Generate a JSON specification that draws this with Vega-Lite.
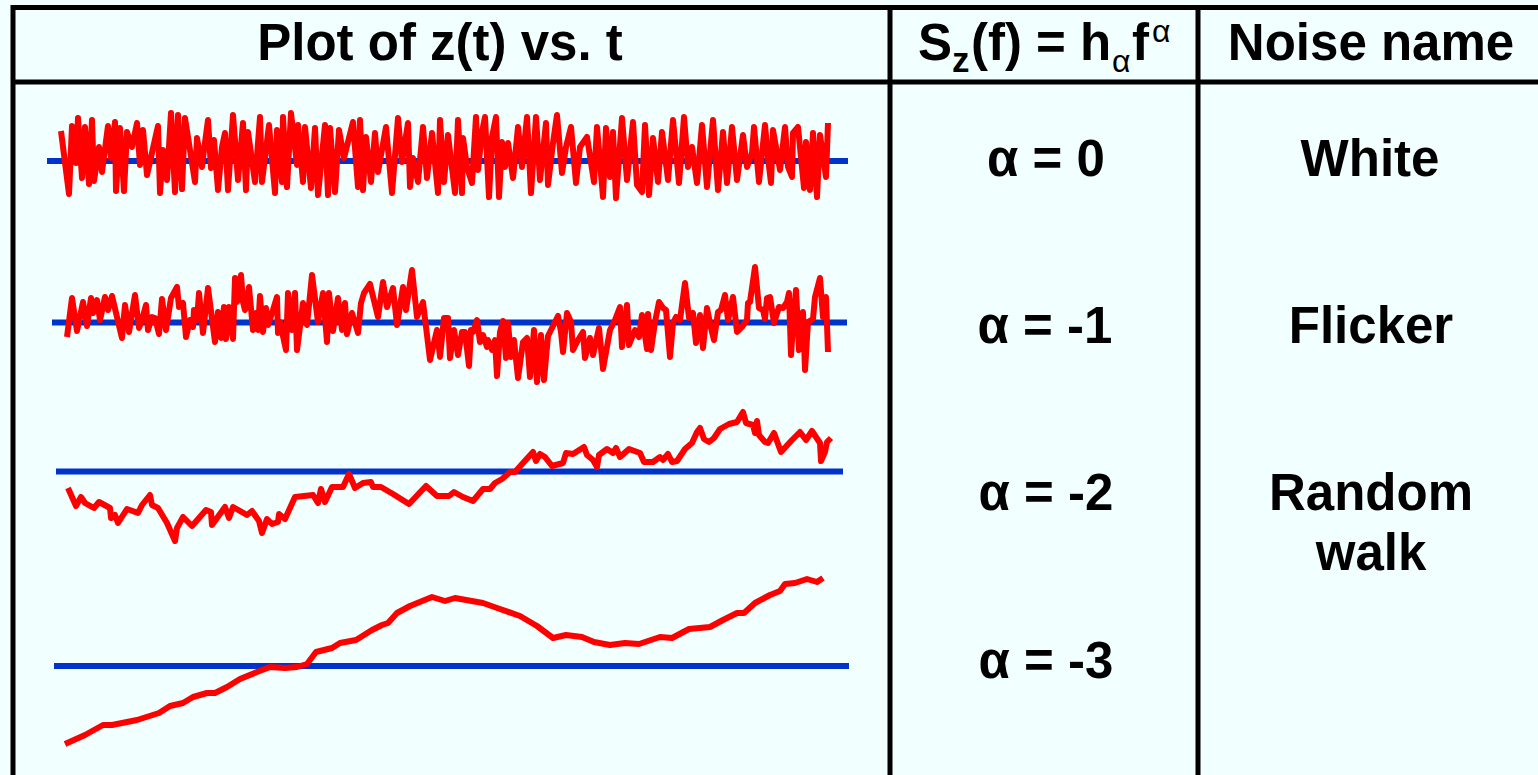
{
 "$schema": "https://vega.github.io/schema/vega-lite/v6.json",
 "width": 1538, "height": 775,
 "autosize": {"type": "none"},
 "padding": 0,
 "background": "#F2FFFF",
 "config": {"view": {"stroke": null}},
 "datasets": {
  "grid": [
   {"t": 11, "t2": 1538, "z": 7.5, "z2": 7.5},
   {"t": 11, "t2": 1538, "z": 82, "z2": 82},
   {"t": 13, "t2": 13, "z": 5, "z2": 775},
   {"t": 890, "t2": 890, "z": 5, "z2": 775},
   {"t": 1198, "t2": 1198, "z": 5, "z2": 775}
  ],
  "baselines": [
   {"series": "white", "t": 47, "t2": 848, "z": 161},
   {"series": "flicker", "t": 52, "t2": 847, "z": 322.5},
   {"series": "random walk", "t": 56, "t2": 843, "z": 471.5},
   {"series": "alpha -3", "t": 54, "t2": 849, "z": 666}
  ],
  "series": [
   {"series":"white","t":61,"z":131},{"series":"white","t":69,"z":194},{"series":"white","t":72,"z":126},{"series":"white","t":76,"z":163},{"series":"white","t":78,"z":118},{"series":"white","t":82,"z":178},{"series":"white","t":85,"z":127},{"series":"white","t":89,"z":184},{"series":"white","t":92,"z":120},{"series":"white","t":94,"z":181},{"series":"white","t":99,"z":147},{"series":"white","t":102,"z":172},{"series":"white","t":108,"z":126},{"series":"white","t":111,"z":158},{"series":"white","t":115,"z":122},{"series":"white","t":116,"z":191},{"series":"white","t":120,"z":128},{"series":"white","t":124,"z":191},{"series":"white","t":127,"z":132},{"series":"white","t":132,"z":147},{"series":"white","t":137,"z":123},{"series":"white","t":140,"z":165},{"series":"white","t":143,"z":130},{"series":"white","t":147,"z":175},{"series":"white","t":158,"z":126},{"series":"white","t":160,"z":193},{"series":"white","t":163,"z":150},{"series":"white","t":167,"z":180},{"series":"white","t":171,"z":113},{"series":"white","t":175,"z":192},{"series":"white","t":178,"z":115},{"series":"white","t":182,"z":189},{"series":"white","t":185,"z":118},{"series":"white","t":195,"z":182},{"series":"white","t":197,"z":138},{"series":"white","t":202,"z":167},{"series":"white","t":204,"z":150},{"series":"white","t":208,"z":120},{"series":"white","t":211,"z":168},{"series":"white","t":214,"z":140},{"series":"white","t":218,"z":190},{"series":"white","t":222,"z":147},{"series":"white","t":225,"z":133},{"series":"white","t":228,"z":190},{"series":"white","t":233,"z":115},{"series":"white","t":238,"z":180},{"series":"white","t":243,"z":123},{"series":"white","t":246,"z":190},{"series":"white","t":248,"z":132},{"series":"white","t":255,"z":182},{"series":"white","t":260,"z":117},{"series":"white","t":262,"z":182},{"series":"white","t":269,"z":125},{"series":"white","t":275,"z":193},{"series":"white","t":277,"z":130},{"series":"white","t":282,"z":182},{"series":"white","t":283,"z":117},{"series":"white","t":287,"z":187},{"series":"white","t":291,"z":113},{"series":"white","t":297,"z":165},{"series":"white","t":298,"z":125},{"series":"white","t":303,"z":182},{"series":"white","t":305,"z":127},{"series":"white","t":311,"z":188},{"series":"white","t":315,"z":128},{"series":"white","t":318,"z":195},{"series":"white","t":325,"z":125},{"series":"white","t":328,"z":195},{"series":"white","t":330,"z":128},{"series":"white","t":335,"z":192},{"series":"white","t":339,"z":130},{"series":"white","t":344,"z":158},{"series":"white","t":353,"z":122},{"series":"white","t":358,"z":187},{"series":"white","t":360,"z":120},{"series":"white","t":363,"z":190},{"series":"white","t":366,"z":137},{"series":"white","t":371,"z":182},{"series":"white","t":375,"z":133},{"series":"white","t":378,"z":172},{"series":"white","t":386,"z":127},{"series":"white","t":392,"z":193},{"series":"white","t":398,"z":118},{"series":"white","t":402,"z":162},{"series":"white","t":408,"z":123},{"series":"white","t":410,"z":187},{"series":"white","t":413,"z":158},{"series":"white","t":418,"z":182},{"series":"white","t":423,"z":127},{"series":"white","t":427,"z":178},{"series":"white","t":432,"z":133},{"series":"white","t":438,"z":193},{"series":"white","t":440,"z":120},{"series":"white","t":444,"z":182},{"series":"white","t":448,"z":135},{"series":"white","t":455,"z":193},{"series":"white","t":458,"z":120},{"series":"white","t":462,"z":193},{"series":"white","t":463,"z":138},{"series":"white","t":467,"z":167},{"series":"white","t":472,"z":183},{"series":"white","t":476,"z":117},{"series":"white","t":478,"z":170},{"series":"white","t":482,"z":132},{"series":"white","t":485,"z":117},{"series":"white","t":489,"z":197},{"series":"white","t":492,"z":137},{"series":"white","t":496,"z":117},{"series":"white","t":499,"z":197},{"series":"white","t":502,"z":142},{"series":"white","t":505,"z":167},{"series":"white","t":508,"z":143},{"series":"white","t":513,"z":178},{"series":"white","t":518,"z":127},{"series":"white","t":522,"z":167},{"series":"white","t":527,"z":117},{"series":"white","t":531,"z":193},{"series":"white","t":536,"z":117},{"series":"white","t":540,"z":180},{"series":"white","t":546,"z":123},{"series":"white","t":548,"z":185},{"series":"white","t":553,"z":143},{"series":"white","t":557,"z":115},{"series":"white","t":562,"z":173},{"series":"white","t":566,"z":147},{"series":"white","t":571,"z":127},{"series":"white","t":576,"z":183},{"series":"white","t":580,"z":147},{"series":"white","t":587,"z":137},{"series":"white","t":594,"z":182},{"series":"white","t":597,"z":127},{"series":"white","t":603,"z":197},{"series":"white","t":606,"z":128},{"series":"white","t":610,"z":177},{"series":"white","t":613,"z":132},{"series":"white","t":616,"z":198},{"series":"white","t":622,"z":118},{"series":"white","t":627,"z":180},{"series":"white","t":633,"z":122},{"series":"white","t":637,"z":185},{"series":"white","t":642,"z":192},{"series":"white","t":645,"z":125},{"series":"white","t":649,"z":195},{"series":"white","t":653,"z":138},{"series":"white","t":658,"z":182},{"series":"white","t":662,"z":132},{"series":"white","t":668,"z":180},{"series":"white","t":673,"z":120},{"series":"white","t":679,"z":183},{"series":"white","t":684,"z":117},{"series":"white","t":688,"z":167},{"series":"white","t":692,"z":147},{"series":"white","t":697,"z":183},{"series":"white","t":702,"z":125},{"series":"white","t":707,"z":187},{"series":"white","t":713,"z":120},{"series":"white","t":718,"z":190},{"series":"white","t":723,"z":132},{"series":"white","t":727,"z":183},{"series":"white","t":732,"z":127},{"series":"white","t":737,"z":180},{"series":"white","t":743,"z":135},{"series":"white","t":747,"z":167},{"series":"white","t":752,"z":153},{"series":"white","t":754,"z":127},{"series":"white","t":759,"z":182},{"series":"white","t":765,"z":125},{"series":"white","t":768,"z":158},{"series":"white","t":771,"z":183},{"series":"white","t":773,"z":130},{"series":"white","t":780,"z":170},{"series":"white","t":785,"z":127},{"series":"white","t":788,"z":167},{"series":"white","t":792,"z":177},{"series":"white","t":793,"z":133},{"series":"white","t":798,"z":127},{"series":"white","t":804,"z":188},{"series":"white","t":806,"z":142},{"series":"white","t":810,"z":190},{"series":"white","t":813,"z":133},{"series":"white","t":817,"z":197},{"series":"white","t":820,"z":135},{"series":"white","t":826,"z":177},{"series":"white","t":828,"z":123},
   {"series":"flicker","t":67,"z":337},{"series":"flicker","t":72,"z":298},{"series":"flicker","t":77,"z":331},{"series":"flicker","t":83,"z":302},{"series":"flicker","t":87,"z":326},{"series":"flicker","t":91,"z":298},{"series":"flicker","t":93,"z":313},{"series":"flicker","t":97,"z":300},{"series":"flicker","t":100,"z":320},{"series":"flicker","t":105,"z":297},{"series":"flicker","t":108,"z":310},{"series":"flicker","t":112,"z":296},{"series":"flicker","t":122,"z":338},{"series":"flicker","t":125,"z":305},{"series":"flicker","t":129,"z":332},{"series":"flicker","t":135,"z":295},{"series":"flicker","t":139,"z":328},{"series":"flicker","t":142,"z":320},{"series":"flicker","t":146,"z":305},{"series":"flicker","t":148,"z":330},{"series":"flicker","t":152,"z":317},{"series":"flicker","t":155,"z":318},{"series":"flicker","t":159,"z":334},{"series":"flicker","t":162,"z":299},{"series":"flicker","t":166,"z":330},{"series":"flicker","t":171,"z":298},{"series":"flicker","t":177,"z":287},{"series":"flicker","t":179,"z":307},{"series":"flicker","t":183,"z":303},{"series":"flicker","t":186,"z":337},{"series":"flicker","t":190,"z":320},{"series":"flicker","t":193,"z":327},{"series":"flicker","t":194,"z":310},{"series":"flicker","t":197,"z":320},{"series":"flicker","t":199,"z":293},{"series":"flicker","t":203,"z":333},{"series":"flicker","t":208,"z":288},{"series":"flicker","t":215,"z":342},{"series":"flicker","t":218,"z":312},{"series":"flicker","t":221,"z":338},{"series":"flicker","t":224,"z":307},{"series":"flicker","t":226,"z":339},{"series":"flicker","t":229,"z":307},{"series":"flicker","t":233,"z":339},{"series":"flicker","t":235,"z":278},{"series":"flicker","t":237,"z":302},{"series":"flicker","t":241,"z":275},{"series":"flicker","t":243,"z":302},{"series":"flicker","t":245,"z":310},{"series":"flicker","t":249,"z":287},{"series":"flicker","t":253,"z":330},{"series":"flicker","t":256,"z":313},{"series":"flicker","t":258,"z":330},{"series":"flicker","t":260,"z":296},{"series":"flicker","t":263,"z":332},{"series":"flicker","t":266,"z":308},{"series":"flicker","t":268,"z":325},{"series":"flicker","t":273,"z":310},{"series":"flicker","t":277,"z":297},{"series":"flicker","t":278,"z":333},{"series":"flicker","t":280,"z":322},{"series":"flicker","t":286,"z":350},{"series":"flicker","t":288,"z":293},{"series":"flicker","t":292,"z":330},{"series":"flicker","t":295,"z":293},{"series":"flicker","t":297,"z":350},{"series":"flicker","t":303,"z":303},{"series":"flicker","t":307,"z":325},{"series":"flicker","t":312,"z":275},{"series":"flicker","t":318,"z":322},{"series":"flicker","t":323,"z":293},{"series":"flicker","t":327,"z":342},{"series":"flicker","t":329,"z":293},{"series":"flicker","t":333,"z":331},{"series":"flicker","t":338,"z":298},{"series":"flicker","t":342,"z":330},{"series":"flicker","t":345,"z":303},{"series":"flicker","t":347,"z":334},{"series":"flicker","t":352,"z":313},{"series":"flicker","t":358,"z":333},{"series":"flicker","t":361,"z":303},{"series":"flicker","t":364,"z":293},{"series":"flicker","t":370,"z":284},{"series":"flicker","t":378,"z":317},{"series":"flicker","t":383,"z":282},{"series":"flicker","t":387,"z":307},{"series":"flicker","t":393,"z":288},{"series":"flicker","t":397,"z":325},{"series":"flicker","t":403,"z":287},{"series":"flicker","t":406,"z":310},{"series":"flicker","t":412,"z":270},{"series":"flicker","t":417,"z":317},{"series":"flicker","t":423,"z":302},{"series":"flicker","t":430,"z":360},{"series":"flicker","t":437,"z":330},{"series":"flicker","t":440,"z":357},{"series":"flicker","t":444,"z":318},{"series":"flicker","t":448,"z":318},{"series":"flicker","t":450,"z":358},{"series":"flicker","t":454,"z":330},{"series":"flicker","t":458,"z":355},{"series":"flicker","t":462,"z":332},{"series":"flicker","t":465,"z":332},{"series":"flicker","t":469,"z":366},{"series":"flicker","t":471,"z":330},{"series":"flicker","t":473,"z":332},{"series":"flicker","t":477,"z":320},{"series":"flicker","t":480,"z":342},{"series":"flicker","t":483,"z":335},{"series":"flicker","t":487,"z":347},{"series":"flicker","t":488,"z":340},{"series":"flicker","t":492,"z":350},{"series":"flicker","t":495,"z":340},{"series":"flicker","t":497,"z":376},{"series":"flicker","t":500,"z":332},{"series":"flicker","t":503,"z":321},{"series":"flicker","t":506,"z":358},{"series":"flicker","t":508,"z":323},{"series":"flicker","t":511,"z":357},{"series":"flicker","t":514,"z":340},{"series":"flicker","t":518,"z":378},{"series":"flicker","t":523,"z":342},{"series":"flicker","t":527,"z":338},{"series":"flicker","t":530,"z":377},{"series":"flicker","t":534,"z":330},{"series":"flicker","t":537,"z":382},{"series":"flicker","t":541,"z":335},{"series":"flicker","t":544,"z":380},{"series":"flicker","t":548,"z":336},{"series":"flicker","t":558,"z":316},{"series":"flicker","t":561,"z":332},{"series":"flicker","t":563,"z":352},{"series":"flicker","t":567,"z":313},{"series":"flicker","t":571,"z":322},{"series":"flicker","t":573,"z":350},{"series":"flicker","t":578,"z":340},{"series":"flicker","t":583,"z":332},{"series":"flicker","t":585,"z":358},{"series":"flicker","t":590,"z":338},{"series":"flicker","t":593,"z":355},{"series":"flicker","t":599,"z":328},{"series":"flicker","t":603,"z":369},{"series":"flicker","t":610,"z":330},{"series":"flicker","t":615,"z":320},{"series":"flicker","t":620,"z":307},{"series":"flicker","t":622,"z":347},{"series":"flicker","t":625,"z":323},{"series":"flicker","t":627,"z":305},{"series":"flicker","t":629,"z":345},{"series":"flicker","t":635,"z":330},{"series":"flicker","t":639,"z":337},{"series":"flicker","t":642,"z":315},{"series":"flicker","t":647,"z":349},{"series":"flicker","t":648,"z":314},{"series":"flicker","t":651,"z":350},{"series":"flicker","t":655,"z":322},{"series":"flicker","t":659,"z":302},{"series":"flicker","t":663,"z":308},{"series":"flicker","t":666,"z":310},{"series":"flicker","t":670,"z":357},{"series":"flicker","t":673,"z":323},{"series":"flicker","t":676,"z":317},{"series":"flicker","t":680,"z":320},{"series":"flicker","t":685,"z":283},{"series":"flicker","t":689,"z":318},{"series":"flicker","t":693,"z":313},{"series":"flicker","t":696,"z":343},{"series":"flicker","t":700,"z":315},{"series":"flicker","t":703,"z":348},{"series":"flicker","t":707,"z":308},{"series":"flicker","t":711,"z":328},{"series":"flicker","t":714,"z":340},{"series":"flicker","t":718,"z":312},{"series":"flicker","t":721,"z":310},{"series":"flicker","t":725,"z":295},{"series":"flicker","t":728,"z":320},{"series":"flicker","t":733,"z":297},{"series":"flicker","t":737,"z":332},{"series":"flicker","t":742,"z":327},{"series":"flicker","t":747,"z":320},{"series":"flicker","t":748,"z":303},{"series":"flicker","t":750,"z":302},{"series":"flicker","t":755,"z":267},{"series":"flicker","t":759,"z":308},{"series":"flicker","t":763,"z":310},{"series":"flicker","t":765,"z":319},{"series":"flicker","t":767,"z":298},{"series":"flicker","t":770,"z":297},{"series":"flicker","t":774,"z":323},{"series":"flicker","t":779,"z":307},{"series":"flicker","t":783,"z":308},{"series":"flicker","t":787,"z":302},{"series":"flicker","t":789,"z":293},{"series":"flicker","t":791,"z":355},{"series":"flicker","t":793,"z":325},{"series":"flicker","t":796,"z":290},{"series":"flicker","t":799,"z":350},{"series":"flicker","t":803,"z":312},{"series":"flicker","t":805,"z":370},{"series":"flicker","t":808,"z":322},{"series":"flicker","t":813,"z":319},{"series":"flicker","t":815,"z":297},{"series":"flicker","t":820,"z":278},{"series":"flicker","t":823,"z":317},{"series":"flicker","t":826,"z":297},{"series":"flicker","t":828,"z":352},
   {"series":"random walk","t":68,"z":488},{"series":"random walk","t":76,"z":506},{"series":"random walk","t":81,"z":497},{"series":"random walk","t":85,"z":503},{"series":"random walk","t":94,"z":508},{"series":"random walk","t":99,"z":502},{"series":"random walk","t":110,"z":508},{"series":"random walk","t":111,"z":518},{"series":"random walk","t":115,"z":515},{"series":"random walk","t":118,"z":523},{"series":"random walk","t":127,"z":509},{"series":"random walk","t":138,"z":513},{"series":"random walk","t":142,"z":505},{"series":"random walk","t":150,"z":495},{"series":"random walk","t":152,"z":505},{"series":"random walk","t":158,"z":508},{"series":"random walk","t":167,"z":523},{"series":"random walk","t":175,"z":541},{"series":"random walk","t":177,"z":528},{"series":"random walk","t":183,"z":517},{"series":"random walk","t":192,"z":526},{"series":"random walk","t":206,"z":510},{"series":"random walk","t":211,"z":512},{"series":"random walk","t":212,"z":525},{"series":"random walk","t":225,"z":507},{"series":"random walk","t":229,"z":518},{"series":"random walk","t":233,"z":507},{"series":"random walk","t":247,"z":515},{"series":"random walk","t":252,"z":511},{"series":"random walk","t":259,"z":521},{"series":"random walk","t":262,"z":533},{"series":"random walk","t":267,"z":519},{"series":"random walk","t":272,"z":524},{"series":"random walk","t":278,"z":522},{"series":"random walk","t":279,"z":514},{"series":"random walk","t":285,"z":519},{"series":"random walk","t":295,"z":497},{"series":"random walk","t":313,"z":495},{"series":"random walk","t":318,"z":503},{"series":"random walk","t":321,"z":489},{"series":"random walk","t":325,"z":502},{"series":"random walk","t":332,"z":487},{"series":"random walk","t":343,"z":487},{"series":"random walk","t":349,"z":474},{"series":"random walk","t":355,"z":488},{"series":"random walk","t":363,"z":483},{"series":"random walk","t":371,"z":482},{"series":"random walk","t":373,"z":487},{"series":"random walk","t":381,"z":487},{"series":"random walk","t":393,"z":494},{"series":"random walk","t":409,"z":504},{"series":"random walk","t":426,"z":486},{"series":"random walk","t":437,"z":496},{"series":"random walk","t":449,"z":496},{"series":"random walk","t":454,"z":492},{"series":"random walk","t":463,"z":497},{"series":"random walk","t":473,"z":501},{"series":"random walk","t":483,"z":489},{"series":"random walk","t":490,"z":489},{"series":"random walk","t":495,"z":483},{"series":"random walk","t":502,"z":479},{"series":"random walk","t":510,"z":472},{"series":"random walk","t":515,"z":472},{"series":"random walk","t":523,"z":463},{"series":"random walk","t":533,"z":452},{"series":"random walk","t":536,"z":461},{"series":"random walk","t":540,"z":454},{"series":"random walk","t":545,"z":457},{"series":"random walk","t":552,"z":466},{"series":"random walk","t":563,"z":463},{"series":"random walk","t":566,"z":453},{"series":"random walk","t":573,"z":454},{"series":"random walk","t":584,"z":447},{"series":"random walk","t":587,"z":455},{"series":"random walk","t":593,"z":460},{"series":"random walk","t":597,"z":467},{"series":"random walk","t":599,"z":455},{"series":"random walk","t":607,"z":449},{"series":"random walk","t":613,"z":453},{"series":"random walk","t":616,"z":448},{"series":"random walk","t":620,"z":457},{"series":"random walk","t":629,"z":449},{"series":"random walk","t":640,"z":453},{"series":"random walk","t":644,"z":462},{"series":"random walk","t":653,"z":462},{"series":"random walk","t":660,"z":457},{"series":"random walk","t":663,"z":460},{"series":"random walk","t":668,"z":454},{"series":"random walk","t":672,"z":462},{"series":"random walk","t":677,"z":461},{"series":"random walk","t":685,"z":449},{"series":"random walk","t":692,"z":443},{"series":"random walk","t":697,"z":432},{"series":"random walk","t":700,"z":428},{"series":"random walk","t":704,"z":439},{"series":"random walk","t":709,"z":442},{"series":"random walk","t":714,"z":438},{"series":"random walk","t":720,"z":429},{"series":"random walk","t":729,"z":424},{"series":"random walk","t":737,"z":422},{"series":"random walk","t":743,"z":412},{"series":"random walk","t":746,"z":423},{"series":"random walk","t":753,"z":425},{"series":"random walk","t":755,"z":433},{"series":"random walk","t":757,"z":421},{"series":"random walk","t":759,"z":435},{"series":"random walk","t":765,"z":442},{"series":"random walk","t":768,"z":443},{"series":"random walk","t":774,"z":433},{"series":"random walk","t":781,"z":452},{"series":"random walk","t":792,"z":440},{"series":"random walk","t":800,"z":432},{"series":"random walk","t":806,"z":440},{"series":"random walk","t":812,"z":431},{"series":"random walk","t":816,"z":437},{"series":"random walk","t":820,"z":443},{"series":"random walk","t":821,"z":461},{"series":"random walk","t":825,"z":452},{"series":"random walk","t":827,"z":442},{"series":"random walk","t":831,"z":438},
   {"series":"alpha -3","t":65,"z":744},{"series":"alpha -3","t":85,"z":735},{"series":"alpha -3","t":103,"z":725},{"series":"alpha -3","t":112,"z":725},{"series":"alpha -3","t":127,"z":722},{"series":"alpha -3","t":137,"z":720},{"series":"alpha -3","t":159,"z":713},{"series":"alpha -3","t":170,"z":706},{"series":"alpha -3","t":183,"z":703},{"series":"alpha -3","t":193,"z":697},{"series":"alpha -3","t":207,"z":693},{"series":"alpha -3","t":215,"z":693},{"series":"alpha -3","t":227,"z":687},{"series":"alpha -3","t":240,"z":679},{"series":"alpha -3","t":257,"z":672},{"series":"alpha -3","t":270,"z":667},{"series":"alpha -3","t":285,"z":668},{"series":"alpha -3","t":297,"z":667},{"series":"alpha -3","t":307,"z":664},{"series":"alpha -3","t":316,"z":652},{"series":"alpha -3","t":332,"z":648},{"series":"alpha -3","t":340,"z":643},{"series":"alpha -3","t":356,"z":640},{"series":"alpha -3","t":372,"z":630},{"series":"alpha -3","t":382,"z":625},{"series":"alpha -3","t":388,"z":623},{"series":"alpha -3","t":397,"z":613},{"series":"alpha -3","t":410,"z":606},{"series":"alpha -3","t":432,"z":597},{"series":"alpha -3","t":445,"z":601},{"series":"alpha -3","t":455,"z":598},{"series":"alpha -3","t":483,"z":603},{"series":"alpha -3","t":500,"z":609},{"series":"alpha -3","t":520,"z":616},{"series":"alpha -3","t":537,"z":626},{"series":"alpha -3","t":553,"z":638},{"series":"alpha -3","t":566,"z":635},{"series":"alpha -3","t":582,"z":637},{"series":"alpha -3","t":594,"z":642},{"series":"alpha -3","t":610,"z":645},{"series":"alpha -3","t":625,"z":643},{"series":"alpha -3","t":639,"z":644},{"series":"alpha -3","t":660,"z":637},{"series":"alpha -3","t":672,"z":638},{"series":"alpha -3","t":689,"z":629},{"series":"alpha -3","t":710,"z":627},{"series":"alpha -3","t":723,"z":620},{"series":"alpha -3","t":737,"z":613},{"series":"alpha -3","t":744,"z":613},{"series":"alpha -3","t":755,"z":603},{"series":"alpha -3","t":770,"z":595},{"series":"alpha -3","t":780,"z":591},{"series":"alpha -3","t":785,"z":584},{"series":"alpha -3","t":795,"z":583},{"series":"alpha -3","t":807,"z":579},{"series":"alpha -3","t":817,"z":582},{"series":"alpha -3","t":823,"z":578}
  ],
  "labels": [
   {"label": "Plot of z(t) vs. t", "t": 440, "z": 60},
   {"label": "Noise name", "t": 1371, "z": 60},
   {"label": "α = 0", "t": 1046, "z": 176},
   {"label": "α = -1", "t": 1045, "z": 343},
   {"label": "α = -2", "t": 1046, "z": 510},
   {"label": "α = -3", "t": 1046, "z": 678},
   {"label": "White", "t": 1370, "z": 176},
   {"label": "Flicker", "t": 1371, "z": 343},
   {"label": "Random", "t": 1371, "z": 510},
   {"label": "walk", "t": 1371, "z": 570}
  ],
  "formulaMain": [
   {"label": "S", "t": 918, "z": 60},
   {"label": "(f) = h", "t": 971, "z": 60},
   {"label": "f", "t": 1132, "z": 60}
  ],
  "formulaSub": [
   {"label": "z", "t": 952, "z": 72}
  ],
  "formulaGreek": [
   {"label": "α", "t": 1112, "z": 72},
   {"label": "α", "t": 1152, "z": 42}
  ]
 },
 "encoding": {
  "x": {"field": "t", "type": "quantitative", "scale": {"domain": [0, 1538], "nice": false, "zero": false}, "axis": null},
  "y": {"field": "z", "type": "quantitative", "scale": {"domain": [0, 775], "nice": false, "zero": false, "reverse": true}, "axis": null}
 },
 "layer": [
  {
   "data": {"name": "baselines"},
   "mark": {"type": "rule", "color": "#0033CC", "strokeWidth": 6},
   "encoding": {"x2": {"field": "t2"}}
  },
  {
   "data": {"name": "series"},
   "mark": {"type": "line", "color": "#FF0000", "strokeWidth": 6, "strokeJoin": "round"},
   "encoding": {"detail": {"field": "series", "type": "nominal"}}
  },
  {
   "data": {"name": "grid"},
   "mark": {"type": "rule", "color": "#000000", "strokeWidth": 5},
   "encoding": {"x2": {"field": "t2"}, "y2": {"field": "z2"}}
  },
  {
   "data": {"name": "labels"},
   "mark": {"type": "text", "font": "Liberation Sans", "fontWeight": "bold", "fontSize": 51, "align": "center", "baseline": "alphabetic", "color": "#000000"},
   "encoding": {"text": {"field": "label"}}
  },
  {
   "data": {"name": "formulaMain"},
   "mark": {"type": "text", "font": "Liberation Sans", "fontWeight": "bold", "fontSize": 51, "align": "left", "baseline": "alphabetic", "color": "#000000"},
   "encoding": {"text": {"field": "label"}}
  },
  {
   "data": {"name": "formulaSub"},
   "mark": {"type": "text", "font": "Liberation Sans", "fontWeight": "bold", "fontSize": 35, "align": "left", "baseline": "alphabetic", "color": "#000000"},
   "encoding": {"text": {"field": "label"}}
  },
  {
   "data": {"name": "formulaGreek"},
   "mark": {"type": "text", "font": "Liberation Sans", "fontWeight": "normal", "fontSize": 32, "align": "left", "baseline": "alphabetic", "color": "#000000"},
   "encoding": {"text": {"field": "label"}}
  }
 ]
}
